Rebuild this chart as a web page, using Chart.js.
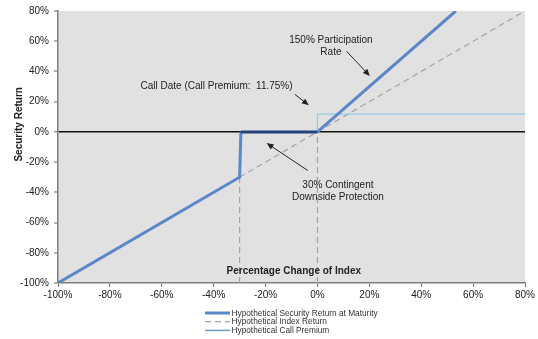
<!DOCTYPE html>
<html>
<head>
<meta charset="utf-8">
<script src="https://cdn.jsdelivr.net/npm/chart.js@4/dist/chart.umd.min.js"></script>
<style>
  html, body { margin: 0; padding: 0; background: #fff; }
  #wrap { width: 538px; height: 339px; position: relative; }
</style>
</head>
<body>
<div id="wrap"><canvas id="c" width="538" height="339"></canvas></div>
<script>
// Payoff profile: index change (%) vs. security return (%)
const indexChange    = [-100, -30, -29.5, 0, 53.33];
const securityReturn = [-100, -30, 0, 0, 80];

const indexReturnX = [-100, 80];
const indexReturnY = [-100, 80];

const callPremiumX = [0, 0, 80];
const callPremiumY = [0, 11.75, 11.75];

// Vertical guides at the protection barrier and at 0%
const barrierX = [-30, -30];
const barrierY = [-100, -30];
const zeroGuideX = [0, 0];
const zeroGuideY = [-100, 0];

const axisTicks = [-100, -80, -60, -40, -20, 0, 20, 40, 60, 80];

const seriesLabels = [
  'Hypothetical Security Return at Maturity',
  'Hypothetical Index Return',
  'Hypothetical Call Premium'
];

const toPoints = (xs, ys) => xs.map((x, i) => ({ x, y: ys[i] }));

const FONT = '"Liberation Sans", Arial, sans-serif';

// Callout texts with arrows, anchored in data units
const callouts = [
  { lines: ['150% Participation', 'Rate'], x: 5.2, y: 60.5, arrow: [11.25, 53.3, 20.2, 37] },
  { lines: ['Call Date (Call Premium:  11.75%)'], x: -38.9, y: 30.5, arrow: [-8.7, 24.8, -3.3, 17.6] },
  { lines: ['30% Contingent', 'Downside Protection'], x: 7.9, y: -35.4, arrow: [-3.7, -25.6, -19.6, -7.4] }
];

const plotBackground = {
  id: 'plotBackground',
  beforeDraw(chart) {
    const { ctx, chartArea: a } = chart;
    ctx.save();
    ctx.fillStyle = '#e1e1e1';
    ctx.fillRect(a.left, a.top, a.right - a.left, a.bottom - a.top);
    ctx.restore();
  }
};

function arrow(ctx, x1, y1, x2, y2) {
  const ang = Math.atan2(y2 - y1, x2 - x1);
  const hl = 7, hw = 3;
  ctx.beginPath();
  ctx.moveTo(x1, y1);
  ctx.lineTo(x2 - Math.cos(ang) * hl * 0.8, y2 - Math.sin(ang) * hl * 0.8);
  ctx.stroke();
  ctx.beginPath();
  ctx.moveTo(x2, y2);
  ctx.lineTo(x2 - Math.cos(ang) * hl - Math.sin(ang) * hw, y2 - Math.sin(ang) * hl + Math.cos(ang) * hw);
  ctx.lineTo(x2 - Math.cos(ang) * hl + Math.sin(ang) * hw, y2 - Math.sin(ang) * hl - Math.cos(ang) * hw);
  ctx.closePath();
  ctx.fill();
}

const annotations = {
  id: 'annotations',
  afterDatasetsDraw(chart) {
    const { ctx, scales: { x, y } } = chart;
    ctx.save();
    ctx.fillStyle = '#222';
    ctx.strokeStyle = '#222';
    ctx.lineWidth = 1;
    ctx.textAlign = 'center';
    ctx.textBaseline = 'middle';
    ctx.font = '10px ' + FONT;
    callouts.forEach(c => {
      const px = x.getPixelForValue(c.x);
      const py = y.getPixelForValue(c.y);
      c.lines.forEach((t, i) => ctx.fillText(t, px, py + i * 11.5));
      const [ax1, ay1, ax2, ay2] = c.arrow;
      arrow(ctx, x.getPixelForValue(ax1), y.getPixelForValue(ay1),
                 x.getPixelForValue(ax2), y.getPixelForValue(ay2));
    });
    // x-axis title sits inside the plot
    ctx.font = 'bold 10px ' + FONT;
    ctx.fillText('Percentage Change of Index', x.getPixelForValue(-9.1), y.getPixelForValue(-92.1));
    // y-axis title, rotated
    ctx.translate(19, y.getPixelForValue(5));
    ctx.rotate(-Math.PI / 2);
    ctx.fillText('Security Return', 0, 0);
    ctx.restore();
  }
};

// Stacked legend below the plot
const stackedLegend = {
  id: 'stackedLegend',
  afterDraw(chart) {
    const { ctx } = chart;
    const styles = [
      { color: '#5b87c9', width: 3, dash: [] },
      { color: '#a3a3a3', width: 1.2, dash: [6, 4] },
      { color: '#6f9bd3', width: 1.5, dash: [] }
    ];
    const x0 = 205, x1 = 230, yTop = 313, step = 8.7;
    ctx.save();
    ctx.font = '8.3px ' + FONT;
    ctx.textBaseline = 'middle';
    ctx.textAlign = 'left';
    seriesLabels.forEach((lab, i) => {
      const yy = yTop + i * step;
      const s = styles[i];
      ctx.strokeStyle = s.color;
      ctx.lineWidth = s.width;
      ctx.setLineDash(s.dash);
      ctx.beginPath();
      ctx.moveTo(x0, yy);
      ctx.lineTo(x1, yy);
      ctx.stroke();
      ctx.setLineDash([]);
      ctx.fillStyle = '#333';
      ctx.fillText(lab, x1 + 1.5, yy + 0.5);
    });
    ctx.restore();
  }
};

new Chart(document.getElementById('c'), {
  type: 'line',
  data: {
    datasets: [
      {
        label: seriesLabels[0],
        data: toPoints(indexChange, securityReturn),
        borderColor: '#5b87c9',
        borderWidth: 3,
        pointRadius: 0,
        order: 0,
        segment: {
          borderColor: ctx => (ctx.p0.parsed.y === 0 && ctx.p1.parsed.y === 0) ? '#23407c' : undefined
        }
      },
      {
        label: seriesLabels[1],
        data: toPoints(indexReturnX, indexReturnY),
        borderColor: '#a3a3a3',
        borderWidth: 1.2,
        borderDash: [6, 4],
        pointRadius: 0,
        order: 2
      },
      {
        label: seriesLabels[2],
        data: toPoints(callPremiumX, callPremiumY),
        borderColor: '#93cbe6',
        borderWidth: 1.2,
        pointRadius: 0,
        order: 1
      },
      {
        label: 'barrier',
        data: toPoints(barrierX, barrierY),
        borderColor: '#a3a3a3',
        borderWidth: 1.2,
        borderDash: [6, 4],
        pointRadius: 0,
        order: 3
      },
      {
        label: 'zero',
        data: toPoints(zeroGuideX, zeroGuideY),
        borderColor: '#a3a3a3',
        borderWidth: 1.2,
        borderDash: [6, 4],
        pointRadius: 0,
        order: 3
      }
    ]
  },
  options: {
    responsive: false,
    animation: false,
    events: [],
    layout: { padding: { left: 0, top: 7, right: 13, bottom: 36 } },
    plugins: { legend: { display: false }, tooltip: { enabled: false } },
    scales: {
      x: {
        type: 'linear',
        min: -100, max: 80,
        afterBuildTicks: s => { s.ticks = axisTicks.map(v => ({ value: v })); },
        afterFit: s => { s.height = 20; },
        ticks: { callback: v => v + '%', color: '#222', font: { family: FONT, size: 10 }, padding: 2, maxRotation: 0 },
        grid: { color: 'transparent', tickColor: '#7f7f7f', tickLength: 4, tickWidth: 1.2 },
        border: { color: '#7f7f7f', width: 1.5 }
      },
      y: {
        type: 'linear',
        min: -100, max: 80,
        afterBuildTicks: s => { s.ticks = axisTicks.map(v => ({ value: v })); },
        afterFit: s => { s.width = 58; },
        ticks: { callback: v => v + '%', color: '#222', font: { family: FONT, size: 10 }, padding: 5 },
        grid: {
          color: c => c.tick && c.tick.value === 0 ? '#111' : 'transparent',
          lineWidth: c => c.tick && c.tick.value === 0 ? 1.5 : 0,
          tickColor: '#7f7f7f', tickLength: 4, tickWidth: 1.2
        },
        border: { color: '#7f7f7f', width: 1.5 }
      }
    }
  },
  plugins: [plotBackground, annotations, stackedLegend]
});
</script>
</body>
</html>
